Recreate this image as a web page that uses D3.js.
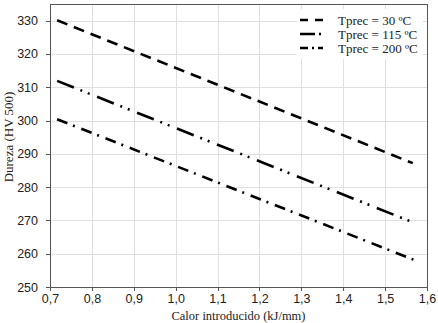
<!DOCTYPE html>
<html>
<head>
<meta charset="utf-8">
<script src="https://cdn.jsdelivr.net/npm/d3@7"></script>
<style>
  body { margin: 0; background: #fff; }
  svg { font-family: "Liberation Serif", "Times New Roman", serif; }
  .grid line { stroke: #e0e0e0; stroke-width: 1; shape-rendering: crispEdges; }
  .axis path, .axis line { stroke: #555; shape-rendering: crispEdges; }
  .axis text { font-size: 12.5px; fill: #222; }
</style>
</head>
<body>
<div id="chart"></div>
<script>
// series names + endpoints
var seriesNames = ['Tprec = 30 ºC', 'Tprec = 115 ºC', 'Tprec = 200 ºC'];
var calor30 = [0.717, 1.566], dureza30 = [330.1, 287.2];
var calor115 = [0.717, 1.561], dureza115 = [311.9, 269.7];
var calor200 = [0.717, 1.582], dureza200 = [300.4, 257.5];
var xTicks = [0.7, 0.8, 0.9, 1.0, 1.1, 1.2, 1.3, 1.4, 1.5, 1.6];
var yTicks = [250, 260, 270, 280, 290, 300, 310, 320, 330];

var w = 438, h = 323;
var margin = { top: 4, right: 11, bottom: 36, left: 50 };

var dashes = ['11,7', '18,7,2,6,2,8', '11,6,2,7'];

var series = [
  { name: seriesNames[0], x: calor30, y: dureza30, dash: dashes[0] },
  { name: seriesNames[1], x: calor115, y: dureza115, dash: dashes[1] },
  { name: seriesNames[2], x: calor200, y: dureza200, dash: dashes[2] }
];

var locale = d3.formatLocale({ decimal: ',', thousands: '.', grouping: [3], currency: ['', ''] });

var svg = d3.select('#chart').append('svg')
  .attr('width', w)
  .attr('height', h);

var x = d3.scaleLinear().domain([0.7, 1.6]).range([margin.left, w - margin.right]);
var y = d3.scaleLinear().domain([250, 335]).range([h - margin.bottom, margin.top]);

// gridlines
svg.append('g').attr('class', 'grid')
  .selectAll('line.v').data(xTicks.slice(1, -1)).enter().append('line')
  .attr('x1', function(d) { return Math.round(x(d)) + 0.5; })
  .attr('x2', function(d) { return Math.round(x(d)) + 0.5; })
  .attr('y1', y.range()[0]).attr('y2', y.range()[1]);
svg.append('g').attr('class', 'grid')
  .selectAll('line.h').data(yTicks.slice(1)).enter().append('line')
  .attr('y1', function(d) { return Math.round(y(d)) + 0.5; })
  .attr('y2', function(d) { return Math.round(y(d)) + 0.5; })
  .attr('x1', x.range()[0]).attr('x2', x.range()[1]);

// frame (top + right)
svg.append('path')
  .attr('d', 'M' + x.range()[0] + ',' + (y.range()[1] + 0.5) + 'H' + (x.range()[1] + 0.5) + 'V' + y.range()[0])
  .attr('fill', 'none')
  .attr('stroke', '#555')
  .attr('shape-rendering', 'crispEdges');

// axes
svg.append('g')
  .attr('class', 'axis x')
  .attr('transform', 'translate(0,' + y.range()[0] + ')')
  .call(d3.axisBottom(x).tickValues(xTicks).tickFormat(locale.format('.1f')).tickSize(4).tickSizeOuter(0).tickPadding(3));

svg.append('g')
  .attr('class', 'axis y')
  .attr('transform', 'translate(' + margin.left + ',0)')
  .call(d3.axisLeft(y).tickValues(yTicks).tickSize(4).tickSizeOuter(0).tickPadding(8));

// lines
var line = d3.line()
  .x(function(d) { return x(d[0]); })
  .y(function(d) { return y(d[1]); });

svg.append('g').selectAll('path.series')
  .data(series).enter().append('path')
  .attr('class', 'series')
  .attr('d', function(d) { return line(d3.zip(d.x, d.y)); })
  .attr('fill', 'none')
  .attr('stroke', '#000')
  .attr('stroke-width', 2.6)
  .attr('stroke-dasharray', function(d) { return d.dash; });

// legend
var legend = svg.append('g').attr('class', 'legend');
legend.append('rect')
  .attr('x', 297).attr('y', 9)
  .attr('width', 126).attr('height', 50)
  .attr('fill', '#fff');

series.forEach(function(s, i) {
  var ly = 20 + i * 14;
  legend.append('line')
    .attr('x1', 300).attr('x2', 323)
    .attr('y1', ly).attr('y2', ly)
    .attr('stroke', '#000')
    .attr('stroke-width', 2.6)
    .attr('stroke-dasharray', i === 0 ? '8,7' : (i === 1 ? '15,4,2,6' : '8,4,2,4'));
  legend.append('text')
    .attr('x', 338).attr('y', ly)
    .attr('dy', '0.35em')
    .attr('font-size', '13px')
    .attr('fill', '#222')
    .text(s.name);
});

// axis titles
svg.append('text')
  .attr('x', (x.range()[0] + x.range()[1]) / 2)
  .attr('y', 320)
  .attr('text-anchor', 'middle')
  .attr('font-size', '12.5px')
  .attr('fill', '#222')
  .text('Calor introducido (kJ/mm)');

svg.append('text')
  .attr('transform', 'translate(13,137) rotate(-90)')
  .attr('text-anchor', 'middle')
  .attr('font-size', '13px')
  .attr('fill', '#222')
  .text('Dureza (HV 500)');
</script>
</body>
</html>
